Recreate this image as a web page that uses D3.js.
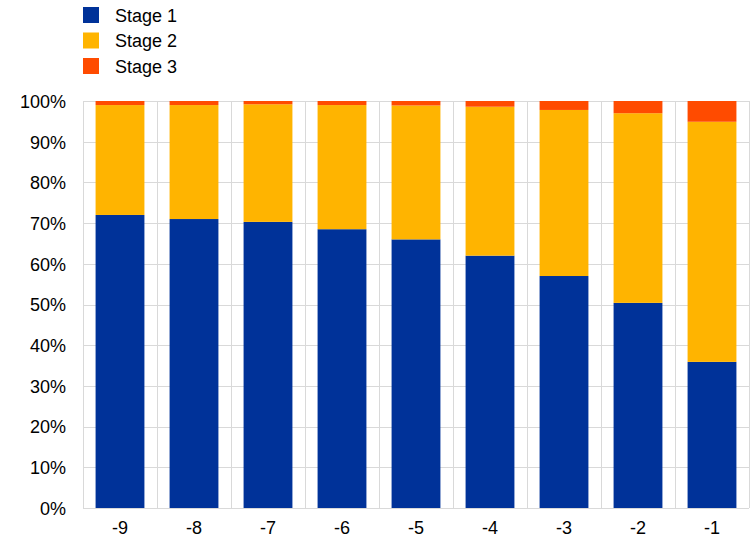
<!DOCTYPE html>
<html lang="en">
<head>
<meta charset="UTF-8">
<title>Stages</title>
<script src="https://cdn.jsdelivr.net/npm/d3@7"></script>
<style>
  body { margin: 0; background: #fff; }
  text { font-family: "Liberation Sans", Arial, sans-serif; fill: #000; }
</style>
</head>
<body>
<div id="container"></div>
<script>
  // data (percent)
  const categories = ["-9", "-8", "-7", "-6", "-5", "-4", "-3", "-2", "-1"];
  const stage1 = [72.0, 71.0, 70.3, 68.5, 66.0, 62.0, 57.0, 50.4, 35.9];
  const stage2 = [27.0, 28.0, 28.9, 30.5, 32.9, 36.6, 40.8, 46.6, 59.0];
  const stage3 = [1.0, 1.0, 0.8, 1.0, 1.1, 1.4, 2.2, 3.0, 5.1];
  const seriesNames = ["Stage 1", "Stage 2", "Stage 3"];
  const colors = ["#003299", "#FFB400", "#FF4B00"];
  const yTicks = [0, 10, 20, 30, 40, 50, 60, 70, 80, 90, 100];

  const W = 752, H = 539;
  const m = { left: 83, right: 3, top: 101, bottom: 31 };

  const rows = categories.map((c, i) => ({ cat: c, "Stage 1": stage1[i], "Stage 2": stage2[i], "Stage 3": stage3[i] }));
  const stacked = d3.stack().keys(seriesNames)(rows);

  const svg = d3.select("#container").append("svg")
    .attr("width", W).attr("height", H);

  const x = d3.scaleBand().domain(categories).range([m.left, W - m.right]).paddingInner(0).paddingOuter(0);
  const y = d3.scaleLinear().domain([0, 100]).range([H - m.bottom, m.top]);

  // gridlines
  const grid = svg.append("g").attr("stroke", "#d9d9d9").attr("stroke-width", 1);
  grid.selectAll(".h").data(yTicks).enter().append("line")
    .attr("x1", m.left).attr("x2", W - m.right)
    .attr("y1", d => Math.round(y(d)) + 0.5).attr("y2", d => Math.round(y(d)) + 0.5);
  const edges = categories.map(c => x(c)).concat([x(categories[categories.length - 1]) + x.bandwidth()]);
  grid.selectAll(".v").data(edges).enter().append("line")
    .attr("y1", y(100)).attr("y2", y(0))
    .attr("x1", d => Math.round(d) + 0.5).attr("x2", d => Math.round(d) + 0.5);

  // bars
  const barW = x.bandwidth() * 0.66;
  svg.append("g").selectAll("g").data(stacked).enter().append("g")
    .attr("fill", (d, i) => colors[i])
    .selectAll("rect").data(d => d).enter().append("rect")
    .attr("x", d => x(d.data.cat) + (x.bandwidth() - barW) / 2)
    .attr("width", barW)
    .attr("y", d => y(d[1]))
    .attr("height", d => y(d[0]) - y(d[1]));

  // axes
  const yAxis = svg.append("g")
    .attr("transform", `translate(${m.left - 17},0)`)
    .call(d3.axisLeft(y).tickValues(yTicks).tickFormat(d => d + "%").tickSize(0));
  yAxis.select(".domain").remove();
  yAxis.selectAll("text").style("font-size", "18px").attr("font-family", null).attr("dy", "0.35em").attr("x", 0);

  const xAxis = svg.append("g")
    .attr("transform", `translate(0,${H - m.bottom})`)
    .call(d3.axisBottom(x).tickSize(0));
  xAxis.select(".domain").remove();
  xAxis.selectAll("text").style("font-size", "18px").attr("font-family", null).attr("y", 26).attr("dy", "0");

  // legend
  const legend = svg.append("g");
  seriesNames.forEach((s, i) => {
    const g = legend.append("g").attr("transform", `translate(83,${7 + i * 25.5})`);
    g.append("rect").attr("width", 16).attr("height", 16).attr("fill", colors[i]);
    g.append("text").attr("x", 32).attr("y", 8.5).attr("dy", "0.35em")
      .style("font-size", "18px").text(s);
  });
</script>
</body>
</html>
